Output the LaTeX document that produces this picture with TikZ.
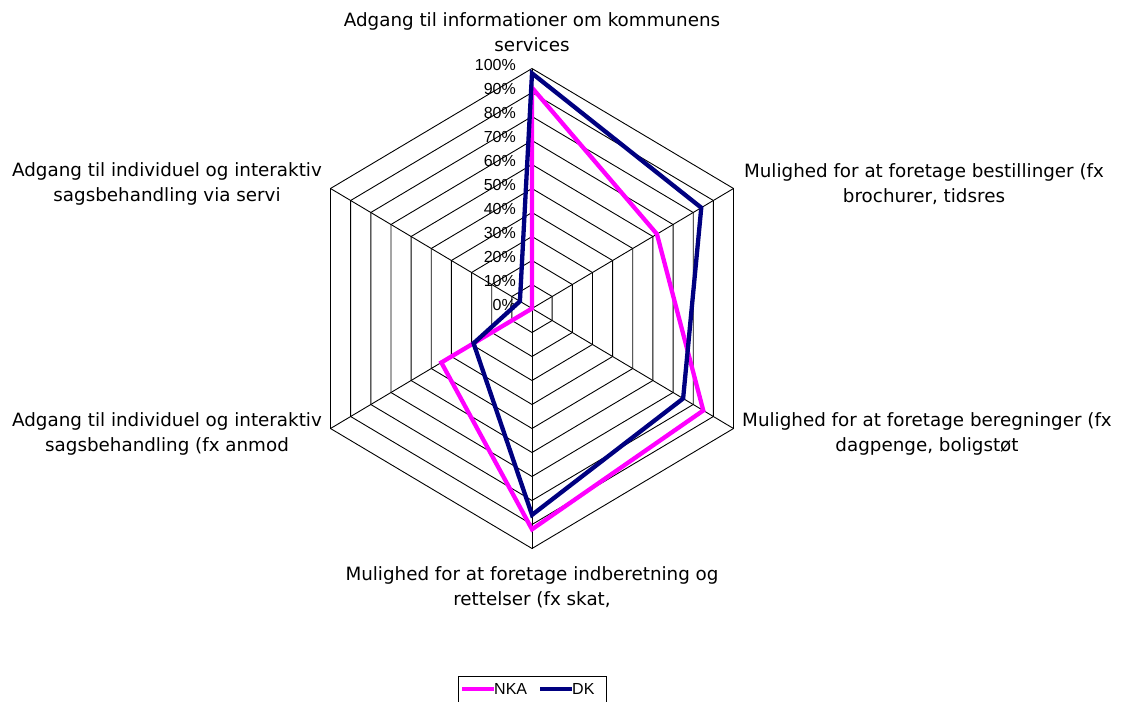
\documentclass[tikz,border=0pt]{standalone}
\usepackage{fontspec}
\setmainfont{DejaVu Sans}
\newfontfamily\chartfont{Liberation Sans}
\usepackage{tikz}
\usetikzlibrary{calc}

\definecolor{nka}{RGB}{255,0,255}
\definecolor{dk}{RGB}{0,0,128}

\begin{document}
\begin{tikzpicture}[x=1pt,y=-1pt]
            \tikzstyle{grid line}=[black,line width=0.9pt]
            \tikzstyle{axis label}=[align=center,inner sep=0pt,font=\fontsize{18.3}{25}\selectfont]
            \tikzstyle{pct label}=[anchor=east,inner sep=0pt,font=\chartfont\fontsize{16}{18}\selectfont]
            \tikzstyle{key label}=[anchor=west,inner sep=0pt,font=\chartfont\fontsize{16}{18}\selectfont]
            \tikzstyle{nka line}=[nka,line width=4.3pt]
            \tikzstyle{dk line}=[dk,line width=4.3pt]
            \useasboundingbox (0,0) rectangle (1131,701);
            % centre and the six axis ends (100%)
            \coordinate (c) at (532,308.5);
            \coordinate (a1) at (532,68.5);
            \coordinate (a2) at (733.5,188.5);
            \coordinate (a3) at (733.5,428.5);
            \coordinate (a4) at (532,548.5);
            \coordinate (a5) at (330.5,428.5);
            \coordinate (a6) at (330.5,188.5);
            % rings
            \foreach \k [evaluate=\k as \r using \k/10] in {1,...,10}
                \draw[grid line] ($(c)!\r!(a1)$) -- ($(c)!\r!(a2)$) -- ($(c)!\r!(a3)$)
                    -- ($(c)!\r!(a4)$) -- ($(c)!\r!(a5)$) -- ($(c)!\r!(a6)$) -- cycle;
            % spokes
            \foreach \i in {1,...,6}
                \draw[grid line] (c) -- (a\i);
            % scale
            \foreach \k [evaluate=\k as \r using \k/10] in {0,...,10} {
                \pgfmathtruncatemacro\pc{10*\k}
                \node[pct label] (p\k) at ($(c)!\r!(a1) + (-16,-3.5)$) {\pc\%};
            }
            % axis names
            \node[axis label] (t1) at (532,32) {Adgang til informationer om kommunens\\services};
            \node[axis label] (t2) at (924,184) {Mulighed for at foretage bestillinger (fx\\brochurer, tidsres};
            \node[axis label] (t3) at (927,434) {Mulighed for at foretage beregninger (fx\\dagpenge, boligstøt};
            \node[axis label] (t4) at (532,587) {Mulighed for at foretage indberetning og\\rettelser (fx skat,};
            \node[axis label] (t5) at (167,434) {Adgang til individuel og interaktiv\\sagsbehandling (fx anmod};
            \node[axis label] (t6) at (167,184) {Adgang til individuel og interaktiv\\sagsbehandling via servi};
            % series
            \foreach \v [count=\i] in {0.92,0.62,0.85,0.92,0.45,0.0}
                \coordinate (n\i) at ($(c)!\v!(a\i)$);
            \foreach \v [count=\i] in {0.98,0.84,0.75,0.86,0.29,0.06}
                \coordinate (d\i) at ($(c)!\v!(a\i)$);
            \draw[nka line] (n1) -- (n2) -- (n3) -- (n4) -- (n5) -- (n6) -- cycle;
            \draw[dk line] (d1) -- (d2) -- (d3) -- (d4) -- (d5) -- (d6) -- cycle;
            % legend
            \draw[grid line] (458,676) rectangle (606,712);
            \node[key label] (knka) at (494,689) {NKA};
            \node[key label] (kdk) at (572,689) {DK};
            \coordinate (knka0) at (462,689);
            \coordinate (kdk0) at (540,689);
            \draw[nka line,line width=3.5pt] (knka0) -- (knka.west);
            \draw[dk line,line width=3.5pt] (kdk0) -- (kdk.west);
\end{tikzpicture}
\end{document}
